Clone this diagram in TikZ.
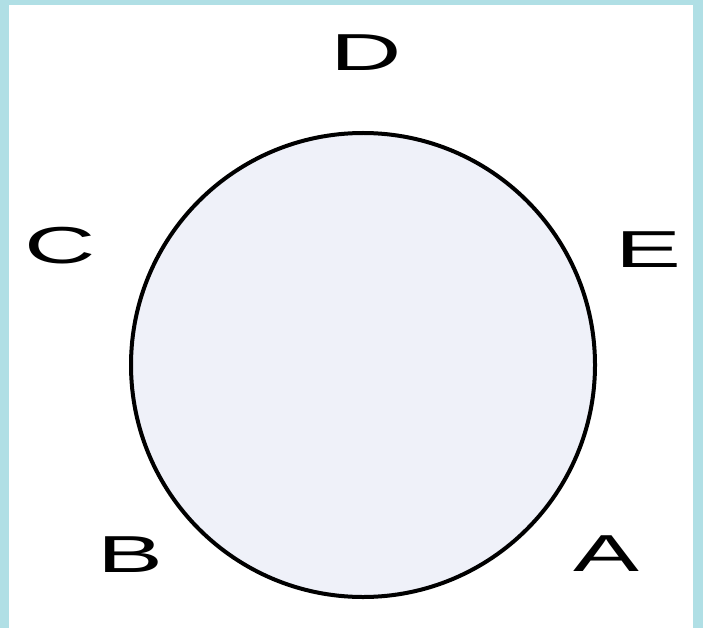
\documentclass[tikz,border=0pt]{standalone}
\usepackage{fontspec}
\setmainfont{Liberation Sans}
\definecolor{frameblue}{HTML}{B0DFE5}
\definecolor{discfill}{HTML}{EFF1F9}
\begin{document}
\begin{tikzpicture}[x=1pt,y=-1pt,
  lbl/.style={inner sep=0pt, font=\fontsize{52}{52}\selectfont},
  disc/.style={circle, draw=black, line width=4pt, fill=discfill, minimum size=464pt, inner sep=0pt}]
\fill[frameblue] (0,0) rectangle (703,628);
\fill[white] (9,5) rectangle (693,628);
\useasboundingbox (0,0) rectangle (703,628);
\node[disc] (o) at (363,365) {};
\node[lbl] (D) at (366,53) {\scalebox{1.9}[1]{D}};
\node[lbl] (E) at (648,250) {\scalebox{1.9}[1]{E}};
\node[lbl] (C) at (60,246) {\scalebox{1.9}[1]{C}};
\node[lbl] (B) at (130,555) {\scalebox{1.9}[1]{B}};
\node[lbl] (A) at (606,554) {\scalebox{1.9}[1]{A}};
\end{tikzpicture}
\end{document}
